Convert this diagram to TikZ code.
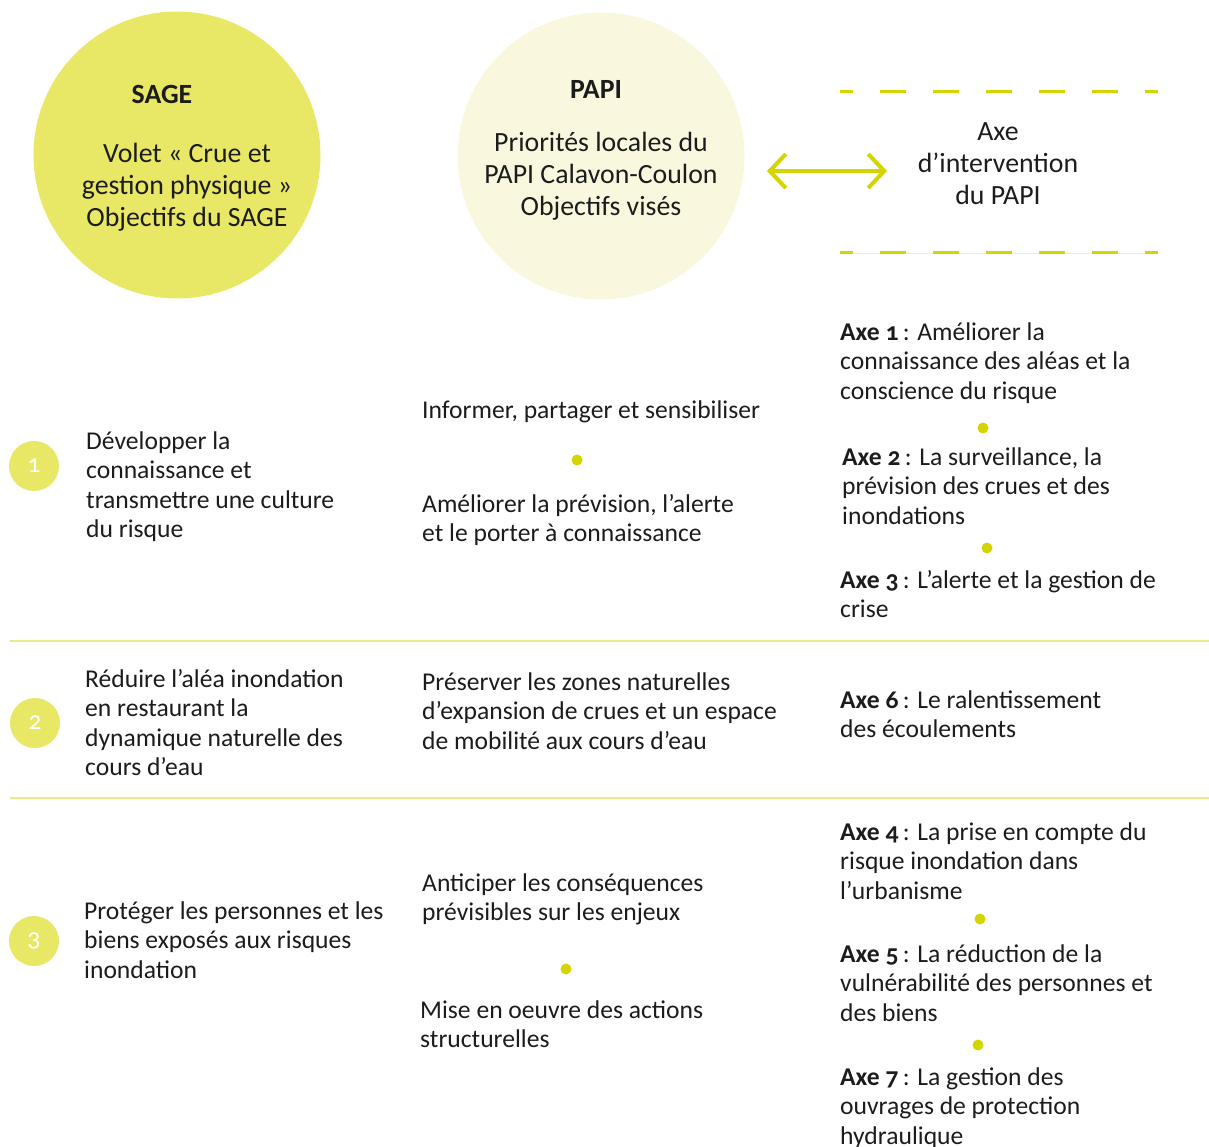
\documentclass[tikz,border=0pt]{standalone}
\usepackage{fontspec}
\setmainfont{Carlito}[Numbers=OldStyle]
\usetikzlibrary{arrows.meta}

\definecolor{sageyellow}{RGB}{232,231,102}
\definecolor{papicream}{RGB}{249,248,222}
\definecolor{accent}{RGB}{212,212,0}
\definecolor{rulecol}{RGB}{236,233,135}
\definecolor{ink}{RGB}{28,28,28}

\newcommand{\bodysize}{\fontsize{25.6}{29.6}\selectfont}
\newcommand{\headsize}{\fontsize{27.8}{32}\selectfont}
\newcommand{\ml}[1]{\begin{tabular}[t]{@{}l@{}}#1\end{tabular}}
\newcommand{\mc}[1]{\begin{tabular}[t]{@{}c@{}}#1\end{tabular}}
\newcommand{\axe}[1]{\textbf{Axe #1}\,:}

\begin{document}
\begin{tikzpicture}[x=1pt,y=-1pt,
  txt/.style={anchor=base west, inner sep=0pt, text=ink, font=\bodysize},
  headtxt/.style={anchor=base, inner sep=0pt, text=ink, font=\headsize},
  bigdisc/.style={circle, inner sep=0pt, minimum size=287pt},
  numdisc/.style={circle, fill=sageyellow, inner sep=0pt, minimum size=50pt,
    text=white, font=\fontsize{26}{26}\selectfont},
  sepdot/.style={circle, fill=accent, inner sep=0pt, minimum size=11pt},
  rowrule/.style={draw=rulecol, line width=2pt},
  axerule/.style={draw=accent, line width=3pt, dash pattern=on 26pt off 27pt, dash phase=13pt},
  linkarrow/.style={draw=accent, line width=4pt,
    {Straight Barb[length=16pt,width=34pt]}-{Straight Barb[length=16pt,width=34pt]}}
]
\useasboundingbox (0,0) rectangle (1209,1146);

% header discs
\node[bigdisc, fill=sageyellow] (sage) at (177,155) {};
\node[bigdisc, fill=papicream] (papi) at (601,156) {};

\node[headtxt, font=\headsize\bfseries] (sagetitle) at (162,103) {SAGE};
\node[headtxt] (sagetext) at (187,162) {\mc{Volet « Crue et\\gestion physique »\\Objectifs du SAGE}};

\node[headtxt, font=\headsize\bfseries] (papititle) at (596,98) {PAPI};
\node[headtxt] (papitext) at (601,151) {\mc{Priorités locales du\\PAPI Calavon-Coulon\\Objectifs visés}};

% axe header with dashed rules
\draw[draw=black!8, line width=1pt] (840,253.5) -- (1158,253.5);
\draw[axerule] (840,91) -- (1158,91);
\draw[axerule] (840,252) -- (1158,252);
\node[headtxt] (axehead) at (998,140) {\mc{Axe\\d’intervention\\du PAPI}};

\coordinate (arrL) at (767,171);
\coordinate (arrR) at (887,171);
\draw[linkarrow] (arrL) -- (arrR);

% row 1
\node[numdisc] (n1) at (34,466) {1};
\node[txt] (r1) at (86,449) {\ml{Développer la\\connaissance et\\transmettre une culture\\du risque}};
\node[txt] (m1a) at (422,418) {\ml{Informer, partager et sensibiliser}};
\node[sepdot] (d1) at (577,460) {};
\node[txt] (m1b) at (422,512) {\ml{Améliorer la prévision, l’alerte\\et le porter à connaissance}};
\node[txt] (ax1) at (840,340) {\ml{\axe{1} Améliorer la\\connaissance des aléas et la\\conscience du risque}};
\node[sepdot] (d2) at (983,428) {};
\node[txt] (ax2) at (842,465) {\ml{\axe{2} La surveillance, la\\prévision des crues et des\\inondations}};
\node[sepdot] (d3) at (987,548) {};
\node[txt] (ax3) at (840,588) {\ml{\axe{3} L’alerte et la gestion de\\crise}};

\draw[rowrule] (10,641) -- (1209,641);

% row 2
\node[numdisc] (n2) at (35,723) {2};
\node[txt] (r2) at (85,687) {\ml{Réduire l’aléa inondation\\en restaurant la\\dynamique naturelle des\\cours d’eau}};
\node[txt] (m2) at (422,690) {\ml{Préserver les zones naturelles\\d’expansion de crues et un espace\\de mobilité aux cours d’eau}};
\node[txt] (ax6) at (840,708) {\ml{\axe{6} Le ralentissement\\des écoulements}};

\draw[rowrule] (10,798) -- (1209,798);

% row 3
\node[numdisc] (n3) at (34,941) {3};
\node[txt] (r3) at (84,919) {\ml{Protéger les personnes et les\\biens exposés aux risques\\inondation}};
\node[txt] (m3a) at (422,891) {\ml{Anticiper les conséquences\\prévisibles sur les enjeux}};
\node[sepdot] (d4) at (566,969) {};
\node[txt] (m3b) at (420,1018) {\ml{Mise en oeuvre des actions\\structurelles}};
\node[txt] (ax4) at (840,840) {\ml{\axe{4} La prise en compte du\\risque inondation dans\\l’urbanisme}};
\node[sepdot] (d5) at (980,919) {};
\node[txt] (ax5) at (840,962) {\ml{\axe{5} La réduction de la\\vulnérabilité des personnes et\\des biens}};
\node[sepdot] (d6) at (978,1045) {};
\node[txt] (ax7) at (840,1085) {\ml{\axe{7} La gestion des\\ouvrages de protection\\hydraulique}};
\end{tikzpicture}
\end{document}
